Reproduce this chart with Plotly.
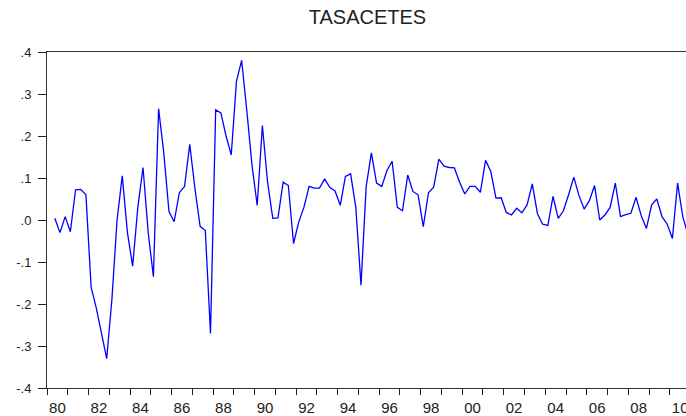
import pandas as pd
import plotly.graph_objects as go

title_text = "TASACETES"
start_period = "1980Q2"
values = [
    0.004, -0.030, 0.008, -0.028, 0.072, 0.073, 0.060, -0.160, -0.210, -0.270,
    -0.330, -0.190, 0.000, 0.105, -0.030, -0.110, 0.030, 0.125, -0.030, -0.135,
    0.265, 0.160, 0.020, -0.004, 0.065, 0.080, 0.180, 0.075, -0.015, -0.025,
    -0.270, 0.262, 0.255, 0.200, 0.155, 0.330, 0.380, 0.260, 0.130, 0.035,
    0.225, 0.090, 0.004, 0.005, 0.090, 0.082, -0.056, -0.005, 0.030, 0.080,
    0.076, 0.076, 0.098, 0.077, 0.069, 0.035, 0.104, 0.110, 0.030, -0.155,
    0.080, 0.160, 0.088, 0.080, 0.118, 0.140, 0.030, 0.022, 0.107, 0.068,
    0.060, -0.016, 0.065, 0.078, 0.145, 0.128, 0.125, 0.124, 0.090, 0.062,
    0.080, 0.080, 0.066, 0.142, 0.116, 0.052, 0.053, 0.018, 0.012, 0.028,
    0.017, 0.036, 0.086, 0.015, -0.010, -0.013, 0.056, 0.004, 0.022, 0.060,
    0.102, 0.058, 0.026, 0.046, 0.082, 0.000, 0.012, 0.030, 0.088, 0.008,
    0.013, 0.016, 0.054, 0.010, -0.020, 0.036, 0.050, 0.008, -0.010, -0.044,
    0.088, 0.008, -0.035,
]
label_years = list(range(1980, 2011, 2))
label_texts = [f"{y % 100:02d}" for y in label_years]
y_ticks = [-0.4, -0.3, -0.2, -0.1, 0.0, 0.1, 0.2, 0.3, 0.4]
y_texts = ["-.4", "-.3", "-.2", "-.1", ".0", ".1", ".2", ".3", ".4"]

periods = pd.period_range(start_period, periods=len(values), freq="Q")
x = [p.year + (p.quarter - 0.5) / 4 for p in periods]

fig = go.Figure()
fig.add_trace(go.Scatter(x=x, y=values, mode="lines",
                         line=dict(color="#0000ff", width=1.3),
                         showlegend=False, hoverinfo="skip"))

W, H = 686, 416
font_family = "Liberation Sans, Arial, sans-serif"
fig.update_layout(
    width=W, height=H,
    margin=dict(l=47, r=0, t=52, b=28, autoexpand=False),
    paper_bgcolor="white", plot_bgcolor="white",
    title=dict(text=title_text, x=(47 + 688) / 2 / W, xanchor="center",
               y=1 - 17 / H, yanchor="middle",
               font=dict(family=font_family, size=20, color="#222222")),
    font=dict(family=font_family, color="#222222"),
)
fig.update_xaxes(
    range=[1980, 2010.78],
    tickmode="array",
    tickvals=[y + 0.5 for y in label_years],
    ticktext=label_texts,
    ticks="outside", ticklen=0,
    ticklabelstandoff=6,
    ticklabeloverflow="allow",
    tickfont=dict(size=15, family=font_family, color="#222222"),
    minor=dict(ticks="outside", ticklen=6, tickcolor="#222222",
               tickmode="linear", tick0=1980, dtick=1, showgrid=False),
    showline=True, linecolor="#333333", linewidth=1, mirror=True,
    showgrid=False, zeroline=False,
)
fig.update_yaxes(
    range=[-0.4, 0.4],
    tickmode="array", tickvals=y_ticks, ticktext=y_texts,
    ticks="outside", ticklen=8, tickcolor="#222222",
    ticklabelstandoff=4,
    tickfont=dict(size=13, family=font_family, color="#222222"),
    showline=True, linecolor="#333333", linewidth=1, mirror=False,
    showgrid=False, zeroline=False,
)
fig.write_html(
    "out.html",
    config={"displayModeBar": False},
    post_script="document.body.style.margin='0';document.body.style.overflow='hidden';",
)
